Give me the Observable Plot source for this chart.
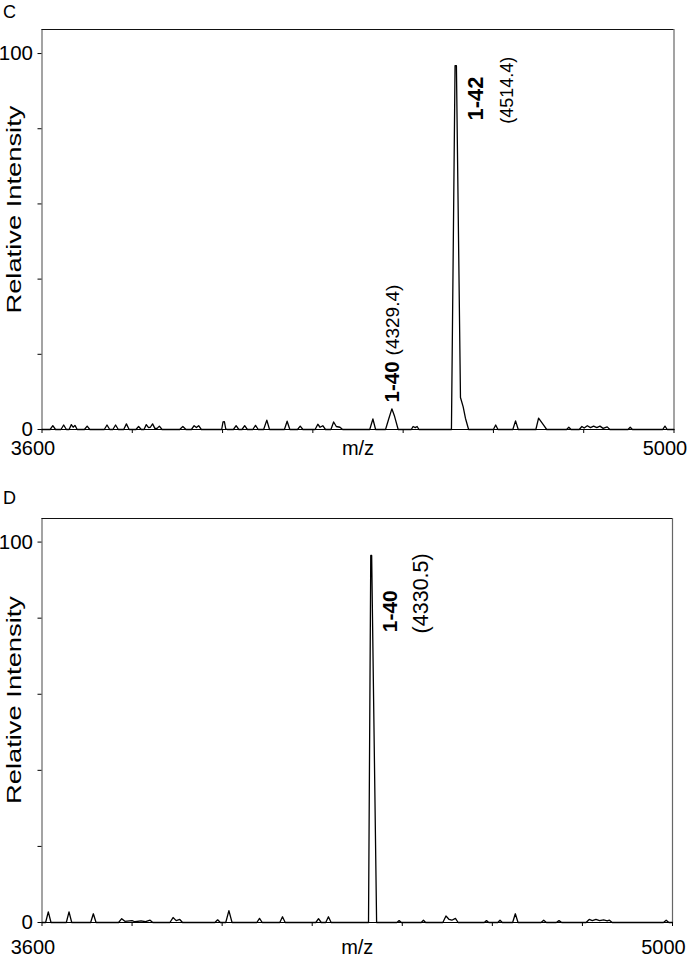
<!DOCTYPE html>
<html><head><meta charset="utf-8">
<script src="https://cdn.jsdelivr.net/npm/d3@7"></script>
<script src="https://cdn.jsdelivr.net/npm/@observablehq/plot@0.6"></script>
<style>
body{margin:0;background:#fff;}
#wrap{position:relative;width:687px;height:959px;font-family:"Liberation Sans",Arial,sans-serif;}
.panel{position:absolute;left:0;z-index:1;}
.letter{position:absolute;left:3px;font-size:18px;line-height:1;z-index:2;color:#000;}
</style></head><body>
<div id="wrap">
  <div class="panel" id="pc" style="top:0px"></div>
  <div class="panel" id="pd" style="top:489px"></div>
  <div class="letter" style="top:3px">C</div>
  <div class="letter" style="top:489px">D</div>
</div>
<script>
// ---- axes ----
const xTickValues = [3600, 3800, 4000, 4200, 4400, 4600, 4800, 5000];
const xTickLabels = ["3600", "", "", "", "", "", "", "5000"];
const yTickValues = [0, 20, 40, 60, 80, 100];
const yTickLabels = ["0", "", "", "", "", "100"];
const xLabel = "m/z";
const yLabel = "Relative Intensity";

// ---- panel C spectrum (m/z, relative intensity) ----
const mzC = [3600,3618,3624,3630,3642,3648,3654,3660,3665,3669,3673,3678,3694,3700,3706,3738,3744,3750,3757,3763,3769,3781,3787,3793,3808,3814,3820,3826,3831,3836,3840,3845,3850,3855,3860,3866,3905,3912,3919,3931,3937,3942,3947,3953,3998,4001,4004,4007,4010,4024,4030,4036,4043,4049,4055,4067,4073,4079,4091,4098,4104,4137,4143,4149,4166,4172,4178,4205,4211,4216,4222,4228,4240,4246,4252,4260,4266,4326,4333,4339,4361,4368,4375,4381,4389,4418,4422,4427,4431,4435,4507,4515,4518,4527,4533,4538,4545,4600,4605,4610,4643,4649,4655,4694,4700,4706,4712,4718,4762,4767,4772,4790,4796,4801,4808,4815,4822,4829,4836,4843,4852,4858,4898,4903,4908,4975,4980,4985,5000];
const intC = [0,0,1.0,0,0,1.2,0,0,1.3,0.6,1.1,0,0,0.9,0,0,1.2,0,0,1.2,0,0,1.5,0,0,0.8,0,0,1.3,0.5,0.6,1.5,0.3,0.3,0.9,0,0,0.8,0,0,1.0,0.5,1.0,0,0,2.0,2.1,0.2,0,0,1.0,0,0,1.0,0,0,1.1,0,0,2.5,0,0,2.2,0,0,0.9,0,0,1.4,0.6,1.0,0,0,2.0,0.8,0.6,0,0,2.8,0,0,2.8,5.5,3.5,0,0,0.8,0.5,0.8,0,0,96.8,96.8,8.5,6,3,0,0,1.2,0,0,2.3,0,0,3.0,2.0,1.0,0,0,0.6,0,0,0.8,0.4,1.0,0.5,0.9,0.5,0.9,0.3,0.7,0,0,0.6,0,0,0.9,0,0];
const yMaxC = 106.4;
const annTextC = ["1-40", "(4329.4)", "1-42", "(4514.4)"];
const annMzC = [4390, 4390, 4578, 4643];
const annIntC = [7.2, 19.7, 82.2, 81.3];

// ---- panel D spectrum ----
const mzD = [3600,3608,3614,3620,3654,3660,3666,3708,3714,3720,3770,3777,3784,3800,3806,3820,3830,3840,3846,3884,3891,3898,3906,3912,3984,3990,3996,4008,4015,4022,4077,4083,4089,4128,4134,4140,4208,4214,4220,4230,4236,4242,4325,4330,4332,4343,4388,4393,4398,4442,4447,4452,4490,4497,4504,4510,4518,4524,4582,4587,4592,4612,4617,4622,4645,4651,4657,4708,4714,4720,4742,4748,4754,4808,4815,4822,4830,4838,4847,4855,4860,4866,4980,4986,4992,5000];
const intD = [0,0,2.8,0,0,2.8,0,0,2.3,0,0,1.0,0.3,0.5,0.2,0.4,0.2,0.6,0,0,1.3,0.5,0.8,0,0,0.7,0,0,3.1,0,0,1.1,0,0,1.5,0,0,1.0,0,0,1.5,0,0,96.5,96.5,0,0,0.5,0,0,0.6,0,0,1.7,0.8,0.6,1.1,0,0,0.5,0,0,0.6,0,0,2.3,0,0,0.6,0,0,0.5,0,0,0.8,0.5,0.8,0.5,0.7,0.4,0.6,0,0,0.6,0,0];
const yMaxD = 106.2;
const annTextD = ["1-40", "(4330.5)"];
const annMzD = [4388.7, 4457.5];
const annIntD = [76.3, 76.0];

const FONT = "'Liberation Sans', Arial, Helvetica, sans-serif";

function annMark(text, mz, y, weight, size) {
  return Plot.text([{t: text, mz, y}], {
    x: "mz", y: "y", text: "t", rotate: -90, textAnchor: "start", lineAnchor: "bottom",
    fontWeight: weight, fontSize: size, fill: "black"
  });
}

function makePanel(o) {
  const rows = o.mz.map((m, i) => ({mz: m, intensity: o.int[i]}));
  const marks = [
    Plot.ruleX([3600, 5000], {stroke: "#666", strokeWidth: 1.2}),
    Plot.ruleY([o.yMax], {stroke: "#111", strokeWidth: 1.2}),
    Plot.ruleY([0], {stroke: "#000", strokeWidth: 1.2}),
    Plot.axisX({ticks: xTickValues, tickSize: 4, tickFormat: () => "", label: null, stroke: "#000"}),
    Plot.axisX({ticks: xTickValues, tickSize: 0, tickPadding: o.xPad + 4, tickFormat: (d, i) => xTickLabels[i],
      label: null, fontSize: 20, dx: -9, fill: "black"}),
    Plot.axisY({ticks: yTickValues, tickSize: 4, tickPadding: 5, tickFormat: (d, i) => yTickLabels[i],
      label: null, fontSize: 20.5, fill: "black", stroke: "#000"}),
    Plot.line(rows, {x: "mz", y: "intensity", stroke: "black", strokeWidth: 1.3}),
    Plot.text([xLabel], {frameAnchor: "bottom", dy: o.xPad + 4, lineAnchor: "top", fontSize: 20, fill: "black"}),
    Plot.text([{t: yLabel, mz: 3600, y: 58.5}], {x: "mz", y: "y", text: "t", dx: -21.5, rotate: -90,
      textAnchor: "middle", lineAnchor: "bottom", fontSize: 21, fill: "black"}),
    ...o.ann
  ];
  const svg = Plot.plot({
    width: 687, height: o.height,
    marginLeft: 41.5, marginRight: o.mr, marginTop: o.mt, marginBottom: o.mb,
    x: {domain: [3600, 5000], label: null, axis: null},
    y: {domain: [0, o.yMax], label: null, axis: null},
    style: {fontFamily: FONT, background: "white", color: "black", overflow: "visible"},
    marks
  });
  d3.select(svg).selectAll("text").filter(function() { return this.textContent === yLabel; })
    .attr("textLength", 208).attr("lengthAdjust", "spacingAndGlyphs");
  return svg;
}

const sizesC = [20.5, 19, 22, 18];
const weightsC = ["bold", "normal", "bold", "normal"];
const svgC = makePanel({
  mz: mzC, int: intC, yMax: yMaxC, height: 470, mt: 29, mb: 41, mr: 13.5, xPad: 7,
  ann: annTextC.map((t, i) => annMark(t, annMzC[i], annIntC[i], weightsC[i], sizesC[i]))
});
document.getElementById("pc").appendChild(svgC);

const sizesD = [21, 21.5];
const weightsD = ["bold", "normal"];
const svgD = makePanel({
  mz: mzD, int: intD, yMax: yMaxD, height: 470, mt: 29, mb: 37, mr: 15, xPad: 13.5,
  ann: annTextD.map((t, i) => annMark(t, annMzD[i], annIntD[i], weightsD[i], sizesD[i]))
});
document.getElementById("pd").appendChild(svgD);
</script>
</body></html>
